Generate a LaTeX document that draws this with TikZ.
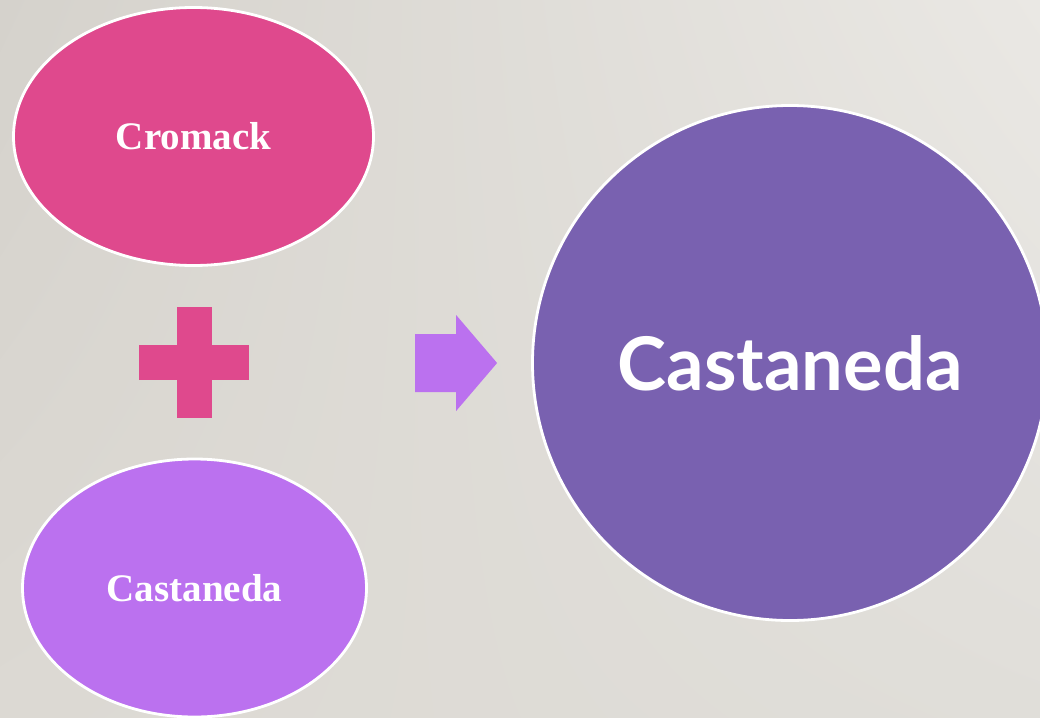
\documentclass[tikz,border=0pt]{standalone}
\usepackage{fontspec}
\setmainfont{Liberation Serif}
\newfontfamily\titlefont{Lato}
\usetikzlibrary{positioning,calc,shapes.geometric,shadings}

\definecolor{bgdark}{RGB}{213,210,204}
\definecolor{bgmid}{RGB}{220,217,211}
\definecolor{bglight}{RGB}{234,232,228}
\definecolor{bglow}{RGB}{224,222,217}
\definecolor{cromackpink}{RGB}{223,73,141}
\definecolor{lilac}{RGB}{187,113,239}
\definecolor{castpurple}{RGB}{121,97,176}

\tikzset{
  blob/.style={ellipse,draw=white,line width=2.8pt,inner sep=0pt,text=white,
    font=\fontsize{39}{44}\selectfont\bfseries},
}

\begin{document}
\begin{tikzpicture}[x=1pt,y=-1pt]
		\clip (0,0) rectangle (1040,717);
		\shade[upper left=bgdark,upper right=bglight,lower left=bgmid,lower right=bglow] (0,0) rectangle (1040,717);
		
		\node[blob,fill=cromackpink,minimum width=360pt,minimum height=258pt] (cromack) at (193.5,136.5) {Cromack};
		\node[blob,fill=lilac,minimum width=344pt,minimum height=258pt] (castanedaS) at (194.5,588) {Castaneda};
		\node[circle,draw=white,line width=2.8pt,fill=castpurple,minimum size=515pt,inner sep=0pt,text=white,
			font=\titlefont\fontsize{74}{86}\selectfont\bfseries] (castaneda) at (790,363) {Castaneda};
		
		% plus between the two ellipses
		\coordinate (plus) at ($(cromack.south)!0.5!(castanedaS.north)$);
		\fill[cromackpink,shift={(plus)}] (-17.5,-55.5) rectangle (17.5,55.5);
		\fill[cromackpink,shift={(plus)}] (-55,-17.5) rectangle (55,17.5);
		
		% block arrow towards the circle
		\coordinate[shift={(-75,0)}] (arrow) at (castaneda.west);
		\fill[lilac,shift={(arrow)}] (-41,-29) -- (0,-29) -- (0,-48) -- (41,0) -- (0,48) -- (0,29) -- (-41,29) -- cycle;
	\end{tikzpicture}
\end{document}
